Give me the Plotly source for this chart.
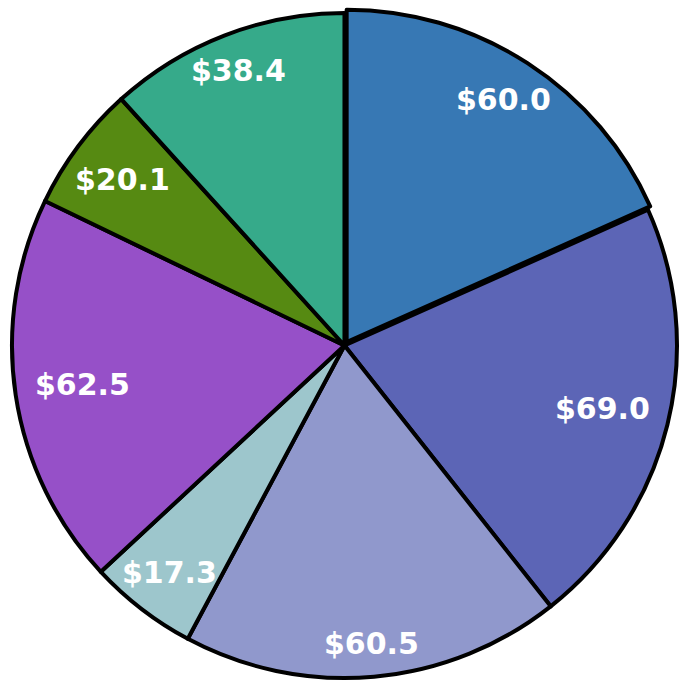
import math
import plotly.graph_objects as go

labels = ["A", "B", "C", "D", "E", "F", "G"]
values = [60.0, 69.0, 60.5, 17.3, 62.5, 20.1, 38.4]
colors = ["#3778B4", "#5C65B6", "#9098CC", "#9DC6CC", "#9650C8", "#568A12", "#36AA8A"]
pulls = [0.012, 0, 0, 0, 0, 0, 0]

# pie circle box in paper fractions (square, 665 px)
box_x = [0.01762, 0.99412]
box_y = [0.00877, 0.98099]
# pie domain enlarged so the pulled slice fits
domain = dict(x=[0.0117, 1.0], y=[0.0029, 0.9868])

fig = go.Figure()
fig.add_trace(go.Pie(
    labels=labels,
    values=values,
    sort=False,
    direction="clockwise",
    rotation=0,
    pull=pulls,
    marker=dict(colors=colors, line=dict(color="black", width=4)),
    textinfo="none",
    hoverinfo="none",
    showlegend=False,
    domain=domain,
))
# invisible cartesian frame mapped onto the pie circle (-1..1 = rim to rim)
fig.add_trace(go.Scatter(x=[], y=[], mode="none", showlegend=False, hoverinfo="none"))

total = sum(values)
cum = 0.0
for v, p in zip(values, pulls):
    mid = math.radians(360.0 * (cum + v / 2.0) / total)
    cum += v
    s, c = math.sin(mid), math.cos(mid)
    rho = 0.902 - 0.108 * s * s + p
    fig.add_annotation(
        x=rho * s, y=rho * c, xref="x", yref="y",
        text=f"${v:.1f}", showarrow=False,
        xanchor="center", yanchor="middle",
        font=dict(family="DejaVu Sans", size=30, color="white", weight="bold"),
    )

fig.update_layout(
    width=681, height=684,
    margin=dict(l=0, r=0, t=0, b=0),
    paper_bgcolor="white",
    plot_bgcolor="rgba(0,0,0,0)",
    showlegend=False,
    xaxis=dict(domain=box_x, range=[-1, 1], visible=False, fixedrange=True),
    yaxis=dict(domain=box_y, range=[-1, 1], visible=False, fixedrange=True),
)
fig.write_html("out.html", config={"displayModeBar": False},
               post_script="document.body.style.margin='0';")
